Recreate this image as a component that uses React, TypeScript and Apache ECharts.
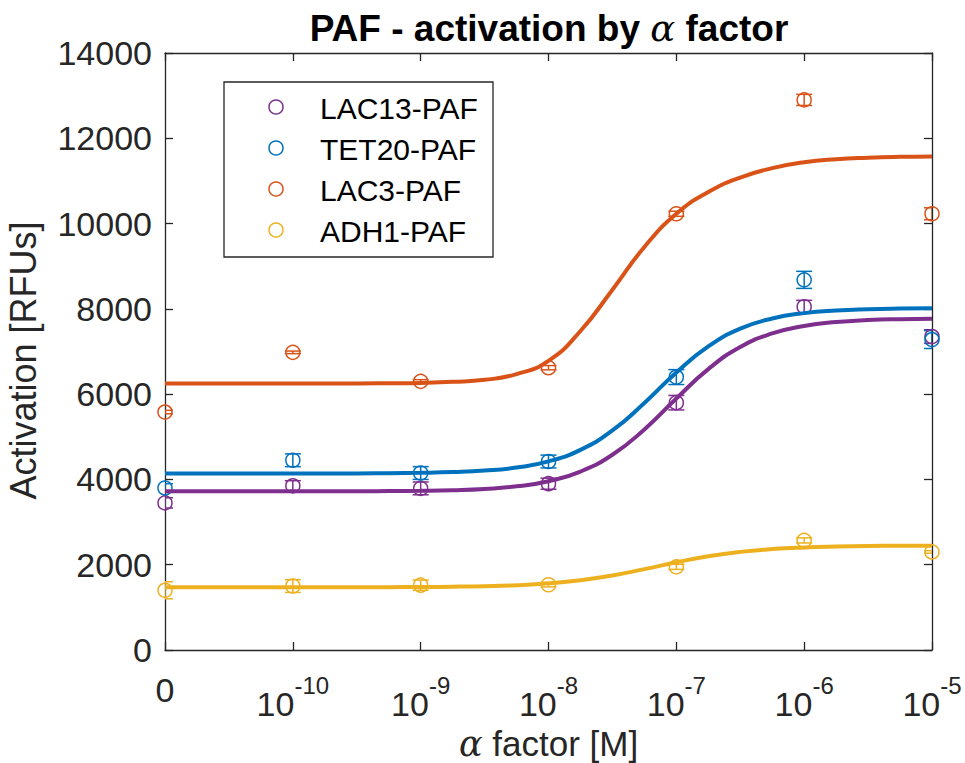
import React, { useEffect, useRef } from 'react';
import * as echarts from 'echarts';

// x positions are log10 of the alpha-factor concentration; -11 stands for "0"
const xTickValues = [-11, -10, -9, -8, -7, -6, -5];
const xTickExponents = ['', '-10', '-9', '-8', '-7', '-6', '-5'];

const seriesNames = ['LAC13-PAF', 'TET20-PAF', 'LAC3-PAF', 'ADH1-PAF'];
const seriesColors = ['#7E2F8E', '#0072BD', '#D95319', '#EDB120'];

// measured means and error bars
const lac13Mean = [3450, 3850, 3790, 3900, 5800, 8050, 7350];
const lac13Err = [120, 120, 150, 130, 170, 150, 160];
const tet20Mean = [3800, 4450, 4150, 4420, 6400, 8680, 7280];
const tet20Err = [100, 150, 150, 150, 175, 200, 210];
const lac3Mean = [5580, 6980, 6300, 6620, 10230, 12900, 10230];
const lac3Err = [40, 30, 40, 50, 60, 130, 140];
const adh1Mean = [1400, 1500, 1520, 1530, 1950, 2570, 2300];
const adh1Err = [200, 150, 120, 50, 60, 60, 30];

// fitted curves (log10 x)
const fitX = [-11, -10.75, -10.5, -10.25, -10, -9.75, -9.5, -9.25, -9, -8.75, -8.5, -8.25, -8,
  -7.75, -7.5, -7.25, -7, -6.75, -6.5, -6.25, -6, -5.75, -5.5, -5.25, -5];
const lac13Fit = [3720, 3720, 3720, 3720, 3720, 3720, 3720, 3726, 3733, 3748, 3778, 3838, 3958,
  4185, 4579, 5172, 5897, 6587, 7103, 7423, 7600, 7691, 7737, 7759, 7770];
const tet20Fit = [4140, 4140, 4140, 4140, 4140, 4140, 4140, 4147, 4155, 4172, 4207, 4279, 4422,
  4692, 5148, 5792, 6509, 7120, 7535, 7774, 7900, 7962, 7992, 8007, 8014];
const lac3Fit = [6250, 6250, 6250, 6250, 6250, 6250, 6250, 6255, 6264, 6288, 6335, 6470, 6780,
  7480, 8450, 9450, 10230, 10740, 11080, 11300, 11440, 11510, 11545, 11565, 11575];
const adh1Fit = [1470, 1470, 1470, 1470, 1470, 1470, 1470, 1474, 1477, 1484, 1497, 1520, 1563,
  1636, 1748, 1896, 2056, 2198, 2301, 2367, 2405, 2426, 2438, 2444, 2447];

const yMin = 0;
const yMax = 14000;
const yInterval = 2000;

const FONT = 'Liberation Sans, Arial, Helvetica, sans-serif';
const SERIF = 'DejaVu Serif, Liberation Serif, serif';
const AXIS_COLOR = '#262626';

export default function App() {
  const ref = useRef<HTMLDivElement>(null);

  useEffect(() => {
    document.body.style.margin = '0';
    if (!ref.current) return;
    const chart = echarts.init(ref.current, undefined, { renderer: 'svg' });

    const means = [lac13Mean, tet20Mean, lac3Mean, adh1Mean];
    const errs = [lac13Err, tet20Err, lac3Err, adh1Err];
    const fits = [lac13Fit, tet20Fit, lac3Fit, adh1Fit];

    const series: any[] = [];
    seriesNames.forEach((name, i) => {
      const color = seriesColors[i];
      series.push({
        type: 'custom',
        name: name + ' error',
        clip: true,
        silent: true,
        z: 2,
        data: xTickValues.map((x, j) => [x, means[i][j], errs[i][j]]),
        renderItem: (params: any, api: any) => {
          const x = api.value(0);
          const y = api.value(1);
          const e = api.value(2);
          const c = api.coord([x, y]);
          const t = api.coord([x, y + e]);
          const b = api.coord([x, y - e]);
          const hw = 8;
          const style = { stroke: color, lineWidth: 1.5, fill: null };
          return {
            type: 'group',
            children: [
              { type: 'line', shape: { x1: c[0], y1: t[1], x2: c[0], y2: b[1] }, style },
              { type: 'line', shape: { x1: c[0] - hw, y1: t[1], x2: c[0] + hw, y2: t[1] }, style },
              { type: 'line', shape: { x1: c[0] - hw, y1: b[1], x2: c[0] + hw, y2: b[1] }, style },
            ],
          };
        },
      });
      series.push({
        type: 'scatter',
        name,
        clip: false,
        z: 3,
        symbol: 'circle',
        symbolSize: 14,
        itemStyle: { color: 'rgba(0,0,0,0)', borderColor: color, borderWidth: 1.5, opacity: 1 },
        data: xTickValues.map((x, j) => [x, means[i][j]]),
      });
    });
    seriesNames.forEach((name, i) => {
      series.push({
        type: 'line',
        name: name + ' fit',
        z: 4,
        showSymbol: false,
        smooth: 0.5,
        clip: true,
        lineStyle: { color: seriesColors[i], width: 4 },
        data: fitX.map((x, j) => [x, fits[i][j]]),
      });
    });

    const tickStyle = { color: AXIS_COLOR, width: 1.3 };

    const legendLeft = 224;
    const legendTop = 82;
    const legendRowGap = 41;
    const legendGraphics: any[] = [
      {
        type: 'rect',
        z: 100,
        shape: { x: legendLeft, y: legendTop, width: 269, height: 175 },
        style: { fill: '#ffffff', stroke: AXIS_COLOR, lineWidth: 1.3 },
      },
    ];
    seriesNames.forEach((n, i) => {
      const cy = legendTop + 25 + i * legendRowGap;
      legendGraphics.push({
        type: 'circle',
        z: 101,
        shape: { cx: legendLeft + 52, cy, r: 7 },
        style: { fill: 'none', stroke: seriesColors[i], lineWidth: 1.5 },
      });
      legendGraphics.push({
        type: 'text',
        z: 101,
        x: legendLeft + 96,
        y: cy + 1,
        style: {
          text: n,
          fontSize: 30,
          fontFamily: FONT,
          fill: '#000',
          align: 'left',
          verticalAlign: 'middle',
        },
      });
    });

    chart.setOption({
      animation: false,
      backgroundColor: '#ffffff',
      grid: { left: 165, right: 33, top: 53, bottom: 113, containLabel: false, outerBoundsMode: 'none' },
      graphic: [
        {
          type: 'text',
          x: 549,
          y: 28,
          style: {
            text: '{t|PAF - activation by }{a|α}{t| factor}',
            align: 'center',
            verticalAlign: 'middle',
            rich: {
              t: { fontSize: 37, fontWeight: 'bold', fontFamily: FONT, fill: '#000', lineHeight: 42 },
              a: { fontSize: 37, fontStyle: 'italic', fontFamily: SERIF, fill: '#000', lineHeight: 42 },
            },
          },
        },
        ...legendGraphics,
      ],
      xAxis: [
        {
          type: 'value',
          position: 'bottom',
          min: -11,
          max: -5,
          interval: 1,
          axisLine: { show: true, onZero: false, lineStyle: tickStyle },
          axisTick: { show: true, inside: true, length: 8, lineStyle: tickStyle },
          splitLine: { show: false },
          axisLabel: {
            margin: 23,
            color: AXIS_COLOR,
            fontFamily: FONT,
            formatter: (v: number) => {
              const idx = xTickValues.indexOf(v);
              if (idx < 0) return '';
              const ex = xTickExponents[idx];
              if (!ex) return '{z|0}';
              return '{b|10}{s|' + ex + '}';
            },
            rich: {
              z: { fontSize: 34, lineHeight: 34, fontFamily: FONT, color: AXIS_COLOR },
              b: { fontSize: 34, lineHeight: 48, verticalAlign: 'bottom', fontFamily: FONT, color: AXIS_COLOR },
              s: { fontSize: 24, lineHeight: 24, verticalAlign: 'top', fontFamily: FONT, color: AXIS_COLOR },
            },
          },
          name: '{a|α} factor [M]',
          nameLocation: 'middle',
          nameGap: 76,
          nameMoveOverlap: false,
          nameTextStyle: {
            fontSize: 35,
            lineHeight: 35,
            color: AXIS_COLOR,
            fontFamily: FONT,
            rich: {
              a: { fontSize: 35, lineHeight: 35, fontStyle: 'italic', fontFamily: SERIF, color: AXIS_COLOR },
            },
          },
        },
        {
          type: 'value',
          position: 'top',
          min: -11,
          max: -5,
          interval: 1,
          axisLine: { show: true, onZero: false, lineStyle: tickStyle },
          axisTick: { show: true, inside: true, length: 8, lineStyle: tickStyle },
          axisLabel: { show: false },
          splitLine: { show: false },
        },
      ],
      yAxis: [
        {
          type: 'value',
          position: 'left',
          min: yMin,
          max: yMax,
          interval: yInterval,
          axisLine: { show: true, onZero: false, lineStyle: tickStyle },
          axisTick: { show: true, inside: true, length: 8, lineStyle: tickStyle },
          splitLine: { show: false },
          axisLabel: {
            margin: 13,
            fontSize: 34,
            color: AXIS_COLOR,
            fontFamily: FONT,
            formatter: (v: number) => String(v),
          },
          name: 'Activation [RFUs]',
          nameLocation: 'middle',
          nameGap: 122,
          nameMoveOverlap: false,
          nameTextStyle: { fontSize: 36, lineHeight: 40, color: AXIS_COLOR, fontFamily: FONT, padding: [0, 18, 0, 0] },
        },
        {
          type: 'value',
          position: 'right',
          min: yMin,
          max: yMax,
          interval: yInterval,
          axisLine: { show: true, onZero: false, lineStyle: tickStyle },
          axisTick: { show: true, inside: true, length: 8, lineStyle: tickStyle },
          axisLabel: { show: false },
          splitLine: { show: false },
        },
      ],
      series,
    });

    return () => {
      chart.dispose();
    };
  }, []);

  return (
    <div
      ref={ref}
      style={{ width: 965, height: 763, position: 'absolute', left: 0, top: 0 }}
    />
  );
}
